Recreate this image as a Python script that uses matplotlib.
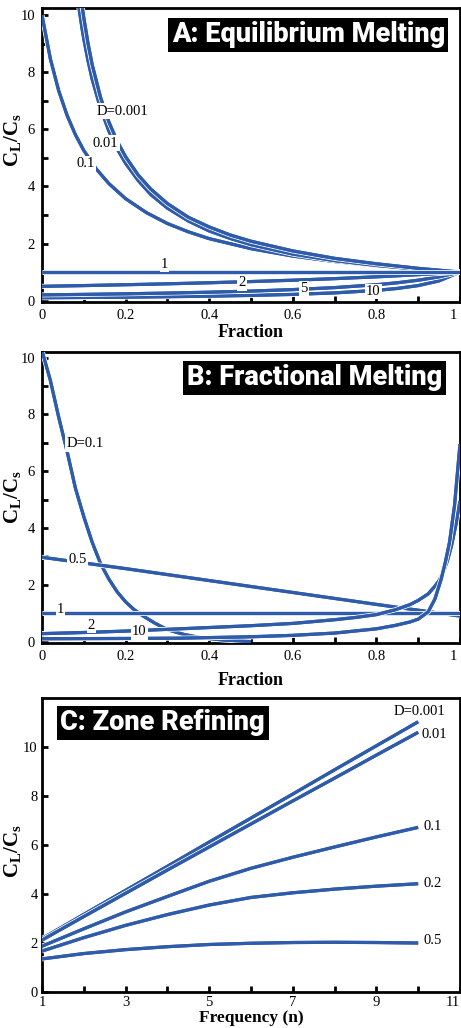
import matplotlib
matplotlib.use("Agg")
import matplotlib.pyplot as plt
import matplotlib.patheffects as pe
from matplotlib.transforms import ScaledTranslation
from matplotlib.ticker import MultipleLocator, FixedLocator, FuncFormatter

# ---- Panel A: equilibrium melting ----
a_frac_low = [0, 0.02, 0.04, 0.06, 0.08, 0.1, 0.13, 0.16, 0.2, 0.25, 0.3, 0.35,
              0.4, 0.5, 0.6, 0.7, 0.8, 0.9, 1.0]
a_d0_1 = [10.0, 8.47, 7.35, 6.49, 5.81, 5.26, 4.61, 4.10, 3.57, 3.08, 2.70, 2.41,
          2.17, 1.82, 1.56, 1.37, 1.22, 1.10, 1.0]

a_frac_high = [0.088, 0.096, 0.1, 0.11, 0.12, 0.14, 0.16, 0.18, 0.2, 0.23, 0.26, 0.3,
               0.35, 0.4, 0.45, 0.5, 0.6, 0.7, 0.8, 0.9, 1.0]
a_d0_01 = [10.30, 9.52, 9.17, 8.41, 7.76, 6.73, 5.94, 5.31, 4.81, 4.21, 3.72, 3.24,
           2.79, 2.44, 2.18, 1.96, 1.63, 1.40, 1.23, 1.10, 1.0]
a_d0_001 = [11.25, 10.32, 9.91, 9.02, 8.27, 7.12, 6.26, 5.58, 5.04, 4.40, 3.91, 3.40,
            2.92, 2.58, 2.30, 2.08, 1.74, 1.48, 1.29, 1.13, 1.0]

a_frac_comp = [0, 0.1, 0.2, 0.3, 0.4, 0.5, 0.6, 0.7, 0.8, 0.85, 0.9, 0.95, 1.0]
a_d1 = [1.0] * 13
a_d2 = [0.5, 0.526, 0.556, 0.588, 0.625, 0.667, 0.714, 0.769, 0.833, 0.870, 0.909, 0.952, 1.0]
a_d5 = [0.2, 0.217, 0.238, 0.263, 0.294, 0.333, 0.385, 0.455, 0.556, 0.625, 0.714, 0.833, 1.0]
a_d10 = [0.1, 0.110, 0.122, 0.137, 0.156, 0.182, 0.217, 0.270, 0.357, 0.426, 0.526, 0.690, 1.0]

# ---- Panel B: fractional melting ----
b_frac_01 = [0, 0.02, 0.04, 0.06, 0.08, 0.10, 0.12, 0.14, 0.16, 0.18, 0.20, 0.22,
             0.24, 0.27, 0.30, 0.34, 0.38, 0.43, 0.5]
b_d0_1 = [10.25, 9.2, 7.9, 6.7, 5.4, 4.4, 3.5, 2.75, 2.2, 1.75, 1.4, 1.13,
          0.92, 0.65, 0.42, 0.25, 0.14, 0.06, 0.0]

b_frac_05 = [0, 0.2, 0.4, 0.6, 0.8, 1.0]
b_d0_5 = [2.97, 2.57, 2.15, 1.73, 1.31, 0.90]

b_frac_1 = [0, 1.0]
b_d1 = [1.0, 1.0]

b_frac_2 = [0, 0.1, 0.2, 0.33, 0.5, 0.6, 0.7, 0.75, 0.8, 0.845, 0.88, 0.9, 0.924,
            0.94, 0.95, 0.96, 0.97, 0.98, 0.99, 1.0]
b_d2 = [0.28, 0.32, 0.37, 0.45, 0.56, 0.64, 0.77, 0.85, 0.95, 1.12, 1.3, 1.45, 1.68,
        1.95, 2.15, 2.45, 2.85, 3.4, 4.1, 4.95]

b_frac_10 = [0, 0.2, 0.33, 0.5, 0.6, 0.7, 0.8, 0.845, 0.88, 0.9, 0.924, 0.94, 0.955,
             0.965, 0.975, 0.987, 0.993, 1.0]
b_d10 = [0.1, 0.11, 0.12, 0.17, 0.22, 0.3, 0.45, 0.57, 0.69, 0.79, 1.05, 1.5, 2.2,
         2.8, 3.5, 4.8, 5.8, 6.95]

# ---- Panel C: zone refining ----
c_n = [1, 2, 3, 4, 5, 6, 7, 8, 9, 10]
c_d0_001 = [2.18, 3.17, 4.15, 5.13, 6.12, 7.10, 8.08, 9.07, 10.05, 11.03]
c_d0_01 = [2.12, 3.08, 4.03, 4.98, 5.92, 6.86, 7.80, 8.73, 9.67, 10.6]
c_d0_1 = [1.87, 2.58, 3.27, 3.90, 4.52, 5.05, 5.50, 5.92, 6.33, 6.72]
c_d0_2 = [1.67, 2.22, 2.72, 3.16, 3.55, 3.86, 4.05, 4.20, 4.32, 4.42]
c_d0_5 = [1.35, 1.57, 1.73, 1.85, 1.94, 1.99, 2.02, 2.03, 2.02, 2.00]

BLUE = "#2E5CAA"
SERIF = "Liberation Serif"
TITLE_FONT = ["Roboto", "DejaVu Sans"]

plt.rcParams["font.family"] = SERIF
plt.rcParams["mathtext.fontset"] = "custom"
plt.rcParams["mathtext.bf"] = "Liberation Serif:bold"
plt.rcParams["mathtext.rm"] = "Liberation Serif"

halo = [pe.withStroke(linewidth=3.6, foreground="white"), pe.Normal()]


def draw(ax, x, y):
    ax.plot(x, y, color=BLUE, lw=2.3, solid_capstyle="butt", path_effects=halo, zorder=3)


def label(ax, x, y, s, ha="center"):
    ax.text(x, y, s, ha=ha, va="center", fontsize=10.5, family=SERIF, zorder=5,
            bbox=dict(facecolor="white", edgecolor="none", pad=0.8))


def style(ax, pad=5):
    for sp in ax.spines.values():
        sp.set_linewidth(2.0)
    ax.tick_params(which="both", direction="in", length=4, width=2, labelsize=10.5, pad=pad)


def title(ax, x, y, s, ha):
    ax.text(x, y, s, transform=ax.transAxes, ha=ha, va="top", color="white",
            fontsize=19.5, fontweight="black", family=TITLE_FONT, zorder=6,
            bbox=dict(facecolor="black", edgecolor="none", pad=2.5))


def nudge_last_xlabel(ax, text):
    # the last tick label sits against the right edge; pull it in a little
    for lab in ax.get_xticklabels():
        if lab.get_text() == text:
            lab.set_transform(lab.get_transform() + ScaledTranslation(-5 / 72, 0, fig.dpi_scale_trans))


fmt = FuncFormatter(lambda v, p: "%g" % v)
ylab = r"$\mathbf{C_L/C_s}$"

fig = plt.figure(figsize=(4.61, 10.28), dpi=100)
axA = fig.add_axes([0.0911, 0.7062, 0.9067, 0.2860])
axB = fig.add_axes([0.0911, 0.3745, 0.9067, 0.2831])
axC = fig.add_axes([0.0911, 0.0350, 0.9067, 0.2860])

# Panel A
draw(axA, a_frac_low, a_d0_1)
draw(axA, a_frac_high, a_d0_01)
draw(axA, a_frac_high, a_d0_001)
draw(axA, a_frac_comp, a_d10)
draw(axA, a_frac_comp, a_d5)
draw(axA, a_frac_comp, a_d2)
draw(axA, a_frac_comp, a_d1)
label(axA, 0.193, 6.64, "D=0.001")
label(axA, 0.152, 5.52, "0.01")
label(axA, 0.105, 4.79, "0.1")
label(axA, 0.293, 1.27, "1")
label(axA, 0.479, 0.62, "2")
label(axA, 0.626, 0.42, "5")
label(axA, 0.793, 0.33, "10")
axA.set_xlim(0, 1)
axA.set_ylim(-0.05, 10.25)
axA.xaxis.set_major_locator(MultipleLocator(0.2))
axA.xaxis.set_minor_locator(MultipleLocator(0.1))
axA.yaxis.set_major_locator(MultipleLocator(2))
axA.yaxis.set_minor_locator(MultipleLocator(1))
axA.xaxis.set_major_formatter(fmt)
style(axA)
axA.set_xlabel("Fraction", fontsize=13, fontweight="bold")
axA.xaxis.set_label_coords(0.5, -0.075)
axA.set_ylabel(ylab, fontsize=15)
axA.yaxis.set_label_coords(-0.045, 0.55)
title(axA, 0.964, 0.955, "A: Equilibrium Melting", "right")

# Panel B
draw(axB, b_frac_01, b_d0_1)
draw(axB, b_frac_05, b_d0_5)
draw(axB, b_frac_1, b_d1)
draw(axB, b_frac_2, b_d2)
draw(axB, b_frac_10, b_d10)
label(axB, 0.058, 6.96, "D=0.1", ha="left")
label(axB, 0.085, 2.88, "0.5")
label(axB, 0.044, 1.13, "1")
label(axB, 0.118, 0.58, "2")
label(axB, 0.233, 0.34, "10")
axB.set_xlim(0, 1)
axB.set_ylim(-0.05, 10.2)
axB.xaxis.set_major_locator(MultipleLocator(0.2))
axB.xaxis.set_minor_locator(MultipleLocator(0.1))
axB.yaxis.set_major_locator(MultipleLocator(2))
axB.yaxis.set_minor_locator(MultipleLocator(1))
axB.xaxis.set_major_formatter(fmt)
style(axB)
axB.set_xlabel("Fraction", fontsize=13, fontweight="bold")
axB.xaxis.set_label_coords(0.5, -0.10)
axB.set_ylabel(ylab, fontsize=15)
axB.yaxis.set_label_coords(-0.045, 0.5)
title(axB, 0.957, 0.958, "B: Fractional Melting", "right")

# Panel C
draw(axC, c_n, c_d0_001)
draw(axC, c_n, c_d0_01)
draw(axC, c_n, c_d0_1)
draw(axC, c_n, c_d0_2)
draw(axC, c_n, c_d0_5)
label(axC, 9.42, 11.46, "D=0.001", ha="left")
label(axC, 10.08, 10.5, "0.01", ha="left")
label(axC, 10.12, 6.75, "0.1", ha="left")
label(axC, 10.12, 4.44, "0.2", ha="left")
label(axC, 10.12, 2.11, "0.5", ha="left")
axC.set_xlim(1, 11)
axC.set_ylim(0, 12)
axC.xaxis.set_major_locator(FixedLocator([1, 3, 5, 7, 9, 11]))
axC.xaxis.set_minor_locator(MultipleLocator(1))
axC.yaxis.set_major_locator(FixedLocator([0, 2, 4, 6, 8, 10]))
style(axC, pad=3)
axC.set_xlabel("Frequency (n)", fontsize=12.5, fontweight="bold", va="center")
axC.xaxis.set_label_coords(0.5, -0.088)
axC.set_ylabel(ylab, fontsize=15)
axC.yaxis.set_label_coords(-0.045, 0.48)
title(axC, 0.044, 0.961, "C: Zone Refining", "left")

fig.canvas.draw()
nudge_last_xlabel(axA, "1")
nudge_last_xlabel(axB, "1")
nudge_last_xlabel(axC, "11")

fig.savefig("out.png", dpi=100)
